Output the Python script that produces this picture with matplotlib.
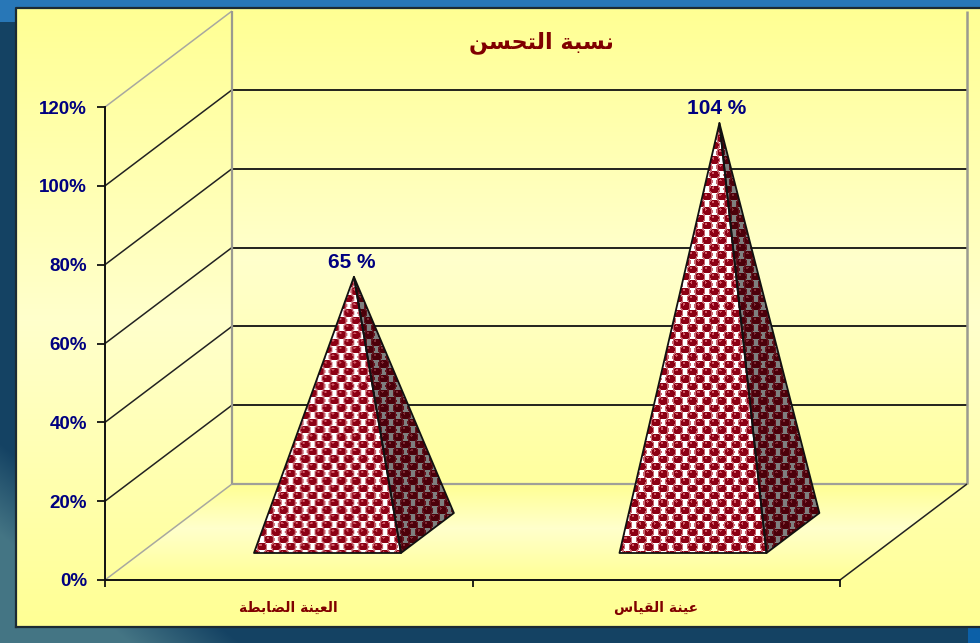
import numpy as np
import matplotlib
matplotlib.use("Agg")
import matplotlib.pyplot as plt
from matplotlib.patches import Polygon
from matplotlib.ticker import PercentFormatter

# ---- data -------------------------------------------------------------
title_text = "نسبة التحسن"
categories = ["العينة الضابطة", "عينة القياس"]
values = [65, 104]
y_ticks = [0, 20, 40, 60, 80, 100, 120]

W, H = 980, 643
NAVY = "#000080"
MAROON = "#800000"

# ---- small Arabic shaper (matplotlib does not join Arabic by itself) ---
FORMS = {  # isolated, final, initial, medial
    "ا": "ﺍﺎ", "ل": "ﻝﻞﻟﻠ", "ع": "ﻉﻊﻋﻌ", "ي": "ﻱﻲﻳﻴ", "ن": "ﻥﻦﻧﻨ",
    "ة": "ﺓﺔ", "ض": "ﺽﺾﺿﻀ", "ب": "ﺏﺐﺑﺒ", "ط": "ﻁﻂﻃﻄ", "ق": "ﻕﻖﻗﻘ",
    "س": "ﺱﺲﺳﺴ", "ت": "ﺕﺖﺗﺘ", "ح": "ﺡﺢﺣﺤ",
}
def shape(s):
    out = []
    chars = list(s)
    for i, c in enumerate(chars):
        f = FORMS.get(c)
        if f is None:
            out.append(c)
            continue
        prev_ok = i > 0 and chars[i - 1] in FORMS and len(FORMS[chars[i - 1]]) == 4
        next_ok = i + 1 < len(chars) and chars[i + 1] in FORMS
        if len(f) == 2:
            out.append(f[1] if prev_ok else f[0])
        elif prev_ok and next_ok:
            out.append(f[3])
        elif prev_ok:
            out.append(f[1])
        elif next_ok:
            out.append(f[2])
        else:
            out.append(f[0])
    r = "".join(out).replace("ﻟﺎ", "ﻻ").replace("ﻠﺎ", "ﻼ")
    return r[::-1]

fig = plt.figure(figsize=(W / 100, H / 100), dpi=100)

# ---- slide background and panel (pixel coordinates) --------------------
bg = fig.add_axes([0, 0, 1, 1], zorder=0)
bg.set_xlim(0, W); bg.set_ylim(H, 0); bg.axis("off")
yy, xx = np.mgrid[0:H, 0:W]
dark = np.array([0.08, 0.26, 0.39])
teal = np.array([0.27, 0.46, 0.52])
t = np.clip((xx + (H - yy) * 1.2 - 130) / 110.0, 0, 1)[..., None]
base = teal * (1 - t) + dark * t
base[:22, :] = np.array([0.16, 0.47, 0.72])
base[628:, 967:] = np.array([0.05, 0.38, 0.66])
bg.imshow(base, extent=(0, W, H, 0), aspect="auto", zorder=0, interpolation="bilinear")

pale = np.array([1.0, 1.0, 0.80])
deep = np.array([1.0, 1.0, 0.58])

def vgrad(y0, y1, mid, lo=deep, hi=deep):
    ys = np.arange(y0, y1)[:, None, None].astype(float)
    up = np.clip((mid - ys) / max(mid - y0, 1), 0, 1)
    dn = np.clip((ys - mid) / max(y1 - mid, 1), 0, 1)
    return pale * (1 - up - dn) + lo * up + hi * dn

PL, PT, PB = 16, 8, 627
FX0, FX1, FY0, FY1 = 105, 840, 580, 107
DX, DY = 127, 96  # depth of the box in pixels
BX0, BX1, BY0, BY1 = FX0 + DX, FX1 + DX, FY0 - DY, FY1 - DY

bg.imshow(vgrad(PT, PB, 320), extent=(PL, W, PB, PT), aspect="auto", zorder=1)
bg.imshow(vgrad(BY1, BY0, 260, hi=np.array([1.0, 1.0, 0.62])), extent=(BX0, BX1, BY0, BY1),
          aspect="auto", zorder=1.1)
floor_im = bg.imshow(vgrad(BY0, FY0, 528), extent=(FX0, BX1, FY0, BY0), aspect="auto", zorder=1.2)
floor_poly = Polygon([(FX0, FY0), (FX1, FY0), (BX1, BY0), (BX0, BY0)], closed=True,
                     facecolor="none", edgecolor="none", transform=bg.transData)
bg.add_patch(floor_poly)
floor_im.set_clip_path(floor_poly)
bg.plot([PL, PL, W], [PB, PT, PT], color="#1c2b33", lw=1.6, zorder=2)
bg.plot([PL, W], [PB, PB], color="#1c2b33", lw=1.6, zorder=2)
bg.set_xlim(0, W); bg.set_ylim(H, 0)

# ---- main axes: front plane of the 3-D box ------------------------------
ax = fig.add_axes([FX0 / W, 1 - FY0 / H, (FX1 - FX0) / W, (FY0 - FY1) / H], zorder=1)
ax.patch.set_alpha(0)
ax.set_xlim(0, 2)
ax.set_ylim(0, 120)
ux = (FX1 - FX0) / 2
uy = (FY0 - FY1) / 120

def P(x, v, depth=0.0):
    """Data position at category coordinate x, value v, and box depth 0..1."""
    return x + depth * DX / ux, v + depth * DY / uy

for s in ("top", "right"):
    ax.spines[s].set_visible(False)
for s in ("left", "bottom"):
    ax.spines[s].set_linewidth(1.4)
    ax.spines[s].set_color("#111111")
ax.set_yticks(y_ticks)
ax.yaxis.set_major_formatter(PercentFormatter(decimals=0))
ax.tick_params(axis="y", length=5.8, width=1.3, color="#111111", labelcolor=NAVY, pad=7)
ax.set_xticks([0, 1, 2])
ax.set_xticklabels([])
ax.tick_params(axis="x", length=5, width=1.3, color="#111111")
for lab in ax.get_yticklabels():
    lab.set_fontfamily("Liberation Sans"); lab.set_fontweight("bold"); lab.set_fontsize(13.5)

# walls and gridlines
line = dict(clip_on=False, solid_capstyle="butt", zorder=2)
for v in y_ticks:
    x0, y0 = P(0, v, 0); x1, y1 = P(0, v, 1)
    edge = v in (y_ticks[0], y_ticks[-1])
    ax.plot([x0, x1], [y0, y1], color="#a8a8a0" if edge else "#222222", lw=1.1, **line)
    if not edge:
        xe, _ = P(2, v, 1)
        ax.plot([x1, xe], [y1, y1], color="#111111", lw=1.3, **line)
x0, y0 = P(0, 0, 1); x1, y1 = P(0, 120, 1)
ax.plot([x0, x1], [y0, y1], color="#9a9a90", lw=1.6, **line)
xe, ye = P(2, 0, 1)
ax.plot([x0, xe], [y0, ye], color="#a0a098", lw=1.6, **line)
xt, yt = P(2, 120, 1)
ax.plot([xe, xt], [ye, yt], color="#9a9a90", lw=1.8, **line)
x2, y2 = P(2, 0, 0)
ax.plot([x2, xe], [y2, ye], color="#222222", lw=1.1, **line)

# ---- pyramids ------------------------------------------------------------
def texture(w, h, paper, ring, dot, shine):
    py_, px_ = np.mgrid[0:h, 0:w]
    img = np.ones((h, w, 3)) * np.array(paper)
    per = 14.6
    rowh = 7.3
    row = np.round(py_ / rowh)
    cx = (np.round((px_ / per) - (row % 2) / 2) + (row % 2) / 2) * per
    cy = row * rowh
    r = np.hypot(px_ - cx, py_ - cy)
    img[r < 5.6] = ring
    img[r < 4.2] = dot
    img[np.hypot(px_ - cx + 1.3, py_ - cy + 1.6) < 1.2] = shine
    return img

HALF = 73.5 / ux           # half of the base width
D0, D1 = 27 / DY, 67 / DY  # front and rear depth of the base
START, STEP = 0.5 + 3 / ux, 365.5 / ux

for i, val in enumerate(values):
    c = START + i * STEP
    a = P(c - HALF, 0, D0)
    b = P(c + HALF, 0, D0)
    e = P(c + HALF, 0, D1)
    apex = P(c, val, (D0 + D1) / 2)
    side = [b, e, apex]
    front = [a, b, apex]
    for pts, paper, ring, dot, shine in (
        (side, (0.50, 0.50, 0.50), (0.38, 0.08, 0.12), (0.30, 0.0, 0.04), (0.50, 0.18, 0.22)),
        (front, (1, 1, 1), (0.78, 0.40, 0.44), (0.55, 0.0, 0.08), (0.82, 0.35, 0.40)),
    ):
        xs = [p[0] for p in pts]; ys = [p[1] for p in pts]
        x_lo, x_hi, y_lo, y_hi = min(xs), max(xs), min(ys), max(ys)
        w_px = int((x_hi - x_lo) * ux) + 1
        h_px = int((y_hi - y_lo) * uy) + 1
        im = ax.imshow(texture(w_px, h_px, paper, ring, dot, shine), origin="upper",
                       extent=(x_lo, x_hi, y_lo, y_hi), aspect="auto", zorder=3,
                       interpolation="bilinear")
        poly = Polygon(pts, closed=True, transform=ax.transData,
                       facecolor="none", edgecolor="#111111", lw=1.3, zorder=4,
                       clip_on=False, joinstyle="round")
        ax.add_patch(poly)
        im.set_clip_path(poly)
    ax.text(apex[0] - 2.5 / ux, apex[1] + 5 / uy, f"{val} %",
            color=NAVY, fontsize=15, fontweight="bold", family="Liberation Sans",
            ha="center", va="bottom", zorder=5, clip_on=False)
ax.set_xlim(0, 2)
ax.set_ylim(0, 120)

# category labels and title
for i, cat in enumerate(categories):
    ax.annotate(shape(cat), xy=(i + 0.5, 0), xytext=(0, -28), textcoords="offset pixels",
                ha="center", va="center", color=MAROON, fontsize=10,
                fontweight="bold", family="DejaVu Sans", annotation_clip=False)
fig.text(541 / W, 1 - 43 / H, shape(title_text), color=MAROON, fontsize=16,
         fontweight="bold", family="DejaVu Sans",
         ha="center", va="center", zorder=6)

fig.savefig("out.png", dpi=100)
